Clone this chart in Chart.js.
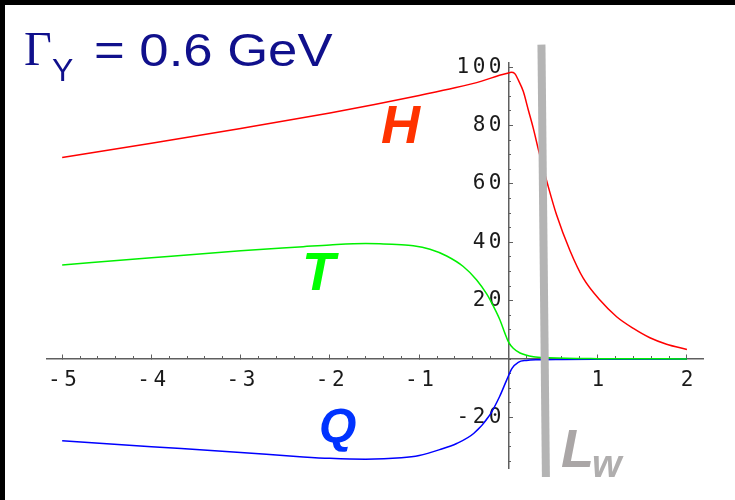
<!DOCTYPE html>
<html>
<head>
<meta charset="utf-8">
<script src="https://cdn.jsdelivr.net/npm/chart.js@4/dist/chart.umd.min.js"></script>
<style>
  html, body { margin: 0; padding: 0; background: #fff; }
  canvas { display: block; }
</style>
</head>
<body>
<canvas id="c" width="735" height="500"></canvas>
<script>
// Field profiles across the wall (x in units of the wall width)
const hX = [-5, -4, -3, -2, -1.5, -1, -0.6, -0.3, -0.1, 0, 0.03, 0.07, 0.11, 0.166, 0.222, 0.278, 0.345, 0.435, 0.539, 0.689, 0.838, 1.025, 1.212, 1.4, 1.585, 1.772, 2];
const hY = [69.0, 73.9, 79.0, 84.3, 87.2, 90.3, 92.9, 95.2, 97.2, 98.0, 98.2, 97.8, 95.6, 91.7, 85.4, 79.1, 70.6, 60.3, 49.4, 37.2, 27.7, 20.2, 14.5, 10.5, 7.3, 5.1, 3.3];

const tX = [-5, -4, -3, -2.3, -2, -1.6, -1.44, -1.25, -1.066, -0.879, -0.692, -0.506, -0.356, -0.244, -0.17, -0.095, -0.039, 0, 0.054, 0.13, 0.28, 0.45, 0.65, 1, 1.5, 2];
const tY = [32.2, 34.7, 37.1, 38.5, 39.1, 39.6, 39.5, 39.2, 38.8, 37.6, 35.3, 31.7, 27.1, 22.3, 18.2, 13.4, 8.8, 5.9, 3.7, 2.1, 0.8, 0.45, 0.25, 0.15, 0.1, 0.05];

const qX = [-5, -4, -3, -2.3, -2, -1.6, -1.2, -1, -0.77, -0.58, -0.39, -0.21, -0.1, -0.02, 0.04, 0.11, 0.2, 0.33, 0.6, 1, 2];
const qY = [-28.0, -30.0, -32.0, -33.5, -34.0, -34.3, -33.8, -33.0, -31.0, -28.9, -25.5, -19.2, -12.9, -7.2, -3.2, -1.1, -0.45, -0.2, -0.1, -0.05, 0];

// Wall position marker (L_w)
const wallX = [0.37, 0.42];
const wallY = [107.7, -40.4];

// Axis extents and tick values
const xMin = -5.17, xMax = 2.18;
const yMin = -37.3, yMax = 101.4;
const xMajorTicks = [-5, -4, -3, -2, -1, 1, 2];
const yMajorTicks = [-20, 20, 40, 60, 80, 100];
const xMinorStep = 0.2;
const yMinorStep = 5;
const yLabelColumn = -0.039;   // x value where the y tick labels end

const pts = (xs, ys) => xs.map((x, i) => ({ x, y: ys[i] }));

function minorTicks(from, to, step) {
  const out = [];
  const n = Math.round((to - from) / step);
  for (let i = 0; i <= n; i++) out.push({ value: +(from + i * step).toFixed(4) });
  return out;
}

const tickFont = { family: '"DejaVu Sans Mono", monospace', size: 21 };
const tickColor = '#1a1a1a';
const axisColor = '#5f5f5f';
const spacing = '3.5px';

const backgroundPlugin = {
  id: 'frame',
  beforeUpdate(chart) { chart.ctx.letterSpacing = spacing; },
  beforeDraw(chart) {
    const ctx = chart.ctx;
    ctx.save();
    ctx.fillStyle = '#ffffff';
    ctx.fillRect(0, 0, chart.width, chart.height);
    ctx.fillStyle = '#000000';
    ctx.fillRect(0, 0, chart.width, 5);
    ctx.fillRect(0, 0, 5, chart.height);
    ctx.restore();
    ctx.letterSpacing = spacing;
  }
};

const labelPlugin = {
  id: 'labels',
  afterDraw(chart) {
    const ctx = chart.ctx;
    ctx.save();
    ctx.letterSpacing = '0px';
    ctx.textAlign = 'left';
    ctx.textBaseline = 'alphabetic';

    // heading
    ctx.fillStyle = '#10108c';
    ctx.font = '48px "Liberation Serif", serif';
    ctx.fillText('Γ', 24, 65);
    ctx.font = '32px "Liberation Sans", Arial, sans-serif';
    ctx.fillText('Y', 52, 81);
    ctx.save();
    ctx.translate(94, 66);
    ctx.scale(1.12, 1);
    ctx.font = '47px "Liberation Sans", Arial, sans-serif';
    ctx.fillText('= 0.6 GeV', 0, 0);
    ctx.restore();

    // curve names
    ctx.font = 'italic bold 54px "Liberation Sans", Arial, sans-serif';
    ctx.fillStyle = '#ff3300';
    ctx.fillText('H', 381, 143);
    ctx.fillStyle = '#00ff00';
    ctx.fillText('T', 302, 290);
    ctx.font = 'italic bold 48px "Liberation Sans", Arial, sans-serif';
    ctx.fillStyle = '#0033ff';
    ctx.fillText('Q', 319, 442);

    ctx.font = 'italic bold 54px "Liberation Sans", Arial, sans-serif';
    ctx.fillStyle = '#aaa6a6';
    ctx.fillText('L', 561, 467);
    ctx.font = 'italic bold 38px "Liberation Sans", Arial, sans-serif';
    ctx.fillStyle = '#b0aeae';
    ctx.fillText('w', 592, 477);
    ctx.restore();
  }
};

const line = (data, color) => ({
  data, borderColor: color, borderWidth: 1.5, pointRadius: 0,
  cubicInterpolationMode: 'monotone', fill: false, order: 1
});

const tickOnly = (len) => ({ drawOnChartArea: false, tickLength: len, tickColor: axisColor, tickWidth: 1 });

new Chart(document.getElementById('c'), {
  type: 'line',
  data: {
    datasets: [
      line(pts(hX, hY), '#ff0000'),
      line(pts(tX, tY), '#00f000'),
      line(pts(qX, qY), '#0000ff'),
      {
        data: pts(wallX, wallY), borderColor: '#b4b4b4', borderWidth: 8,
        pointRadius: 0, clip: false, order: -1, borderCapStyle: 'butt', tension: 0
      }
    ]
  },
  options: {
    responsive: false,
    animation: false,
    devicePixelRatio: 1,
    layout: { padding: { left: 47, right: 32, top: 63, bottom: 32 } },
    plugins: { legend: { display: false }, tooltip: { enabled: false }, title: { display: false } },
    scales: {
      x: {
        type: 'linear', min: xMin, max: xMax, position: { y: 0 },
        afterBuildTicks: s => { s.ticks = xMajorTicks.map(v => ({ value: v })); },
        ticks: { font: tickFont, color: tickColor, padding: 14, labelOffset: 2,
                 maxRotation: 0, autoSkip: false, callback: v => String(v) },
        grid: tickOnly(-5),
        border: { color: axisColor, width: 1.5 }
      },
      xMinor: {
        type: 'linear', axis: 'x', min: xMin, max: xMax, position: { y: 0 },
        afterBuildTicks: s => { s.ticks = minorTicks(-5, 2, xMinorStep); },
        ticks: { display: false },
        grid: tickOnly(-3),
        border: { display: false }
      },
      y: {
        type: 'linear', min: yMin, max: yMax, position: { x: 0 },
        afterBuildTicks: s => { s.ticks = yMajorTicks.map(v => ({ value: v })); },
        ticks: { display: false },
        grid: tickOnly(-5),
        border: { color: axisColor, width: 1.5 }
      },
      yMinor: {
        type: 'linear', axis: 'y', min: yMin, max: yMax, position: { x: 0 },
        afterBuildTicks: s => { s.ticks = minorTicks(-35, 100, yMinorStep); },
        ticks: { display: false },
        grid: tickOnly(-3),
        border: { display: false }
      },
      yLabels: {
        type: 'linear', axis: 'y', min: yMin, max: yMax, position: { x: yLabelColumn },
        afterBuildTicks: s => { s.ticks = yMajorTicks.map(v => ({ value: v })); },
        ticks: { font: tickFont, color: tickColor, autoSkip: false, callback: v => String(v) },
        grid: { display: false, drawOnChartArea: false, drawTicks: false },
        border: { display: false }
      }
    }
  },
  plugins: [backgroundPlugin, labelPlugin]
});
</script>
</body>
</html>
